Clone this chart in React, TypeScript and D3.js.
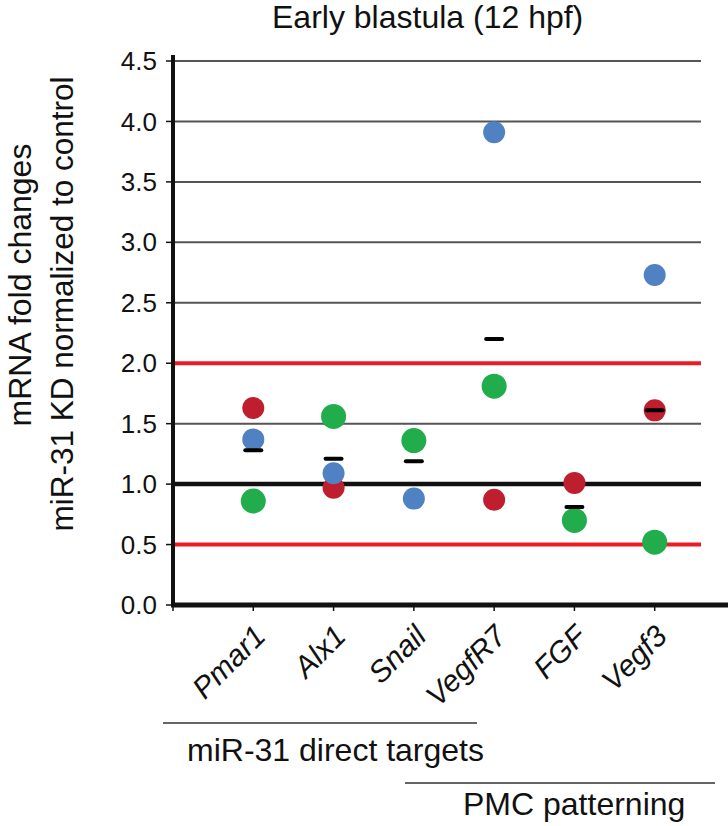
import React from "react";
import * as d3 from "d3";

const categories = ["Pmar1", "Alx1", "Snail", "VegfR7", "FGF", "Vegf3"];
const redValues: (number | null)[] = [1.63, 0.97, null, 0.87, 1.01, 1.61];
const blueValues: (number | null)[] = [1.37, 1.09, 0.88, 3.91, null, 2.73];
const greenValues: (number | null)[] = [0.86, 1.56, 1.36, 1.81, 0.7, 0.52];
const meanValues = [1.28, 1.21, 1.19, 2.2, 0.81, 1.61];
const yTickValues = [0, 0.5, 1, 1.5, 2, 2.5, 3, 3.5, 4, 4.5];
const thresholdValues = [0.5, 2.0];
const baselineValue = 1.0;
const groupLabels = ["miR-31 direct targets", "PMC patterning"];
const titleText = "Early blastula (12 hpf)";
const yLabelLines = ["mRNA fold changes", "miR-31 KD normalized to control"];

const W = 728;
const H = 826;
const FONT = "'Liberation Sans', Arial, sans-serif";

export default function App() {
  const x = d3.scaleLinear().domain([0, 7]).range([173, 735]);
  const y = d3.scaleLinear().domain([0, 4.5]).range([605, 61]);
  const gridEnd = 701;

  const series = [
    { values: redValues, color: "#be1e2d", r: 11 },
    { values: blueValues, color: "#4f81c3", r: 11 },
    { values: greenValues, color: "#21ad4b", r: 12.5 },
  ];

  return (
    <svg
      width={W}
      height={H}
      viewBox={`0 0 ${W} ${H}`}
      style={{ position: "absolute", left: 0, top: 0, background: "#fff" }}
      fontFamily={FONT}
    >
      <rect width={W} height={H} fill="#fff" />
      {/* title */}
      <text x={272} y={28} fontSize={32} fill="#111">
        {titleText}
      </text>

      {/* gridlines */}
      {yTickValues
        .filter((v) => v > 0 && v !== baselineValue && !thresholdValues.includes(v))
        .map((v) => (
          <line key={"g" + v} x1={x(0)} x2={gridEnd} y1={y(v)} y2={y(v)} stroke="#555" strokeWidth={2} />
        ))}
      {thresholdValues.map((v) => (
        <line key={"t" + v} x1={x(0)} x2={gridEnd} y1={y(v)} y2={y(v)} stroke="#ec1c24" strokeWidth={4} />
      ))}
      <line x1={x(0)} x2={gridEnd} y1={y(baselineValue)} y2={y(baselineValue)} stroke="#111" strokeWidth={4.5} />

      {/* y axis */}
      <line x1={x(0)} x2={x(0)} y1={55} y2={y(0) + 2} stroke="#111" strokeWidth={4} />
      {yTickValues.map((v) => (
        <g key={"yt" + v}>
          <line x1={x(0) - 7} x2={x(0)} y1={y(v)} y2={y(v)} stroke="#111" strokeWidth={1.5} />
          <text x={157} y={y(v)} dy="0.35em" textAnchor="end" fontSize={26} fill="#111">
            {v.toFixed(1)}
          </text>
        </g>
      ))}

      {/* x axis */}
      <line x1={x(0) - 2} x2={W} y1={y(0)} y2={y(0)} stroke="#111" strokeWidth={5} />
      {d3.range(0, categories.length + 1).map((i) => (
        <line key={"xt" + i} x1={x(i)} x2={x(i)} y1={y(0)} y2={y(0) + 6} stroke="#111" strokeWidth={1.5} />
      ))}
      {categories.map((c, i) => (
        <text
          key={"xl" + c}
          transform={`translate(${x(i + 1) + 14},${638}) rotate(-45)`}
          textAnchor="end"
          fontSize={30}
          fontStyle="italic"
          fill="#111"
        >
          {c}
        </text>
      ))}

      {/* dots */}
      {series.map((s, si) =>
        s.values.map((v, i) =>
          v == null ? null : (
            <circle key={`d${si}-${i}`} cx={x(i + 1)} cy={y(v)} r={s.r} fill={s.color} />
          )
        )
      )}
      {/* means */}
      {meanValues.map((v, i) => (
        <line
          key={"m" + i}
          x1={x(i + 1) - 8}
          x2={x(i + 1) + 8}
          y1={y(v)}
          y2={y(v)}
          stroke="#000"
          strokeWidth={4}
          strokeLinecap="round"
        />
      ))}

      {/* y label */}
      <text transform={`translate(31,285) rotate(-90)`} textAnchor="middle" fontSize={32} fill="#111">
        {yLabelLines[0]}
      </text>
      <text transform={`translate(73,304) rotate(-90)`} textAnchor="middle" fontSize={31.5} fill="#111">
        {yLabelLines[1]}
      </text>

      {/* group brackets */}
      <line x1={163} x2={477} y1={723} y2={723} stroke="#333" strokeWidth={1.5} />
      <text x={187} y={761} fontSize={32} fill="#111">
        {groupLabels[0]}
      </text>
      <line x1={405} x2={715} y1={783} y2={783} stroke="#333" strokeWidth={1.5} />
      <text x={463} y={815} fontSize={32} fill="#111">
        {groupLabels[1]}
      </text>
    </svg>
  );
}
